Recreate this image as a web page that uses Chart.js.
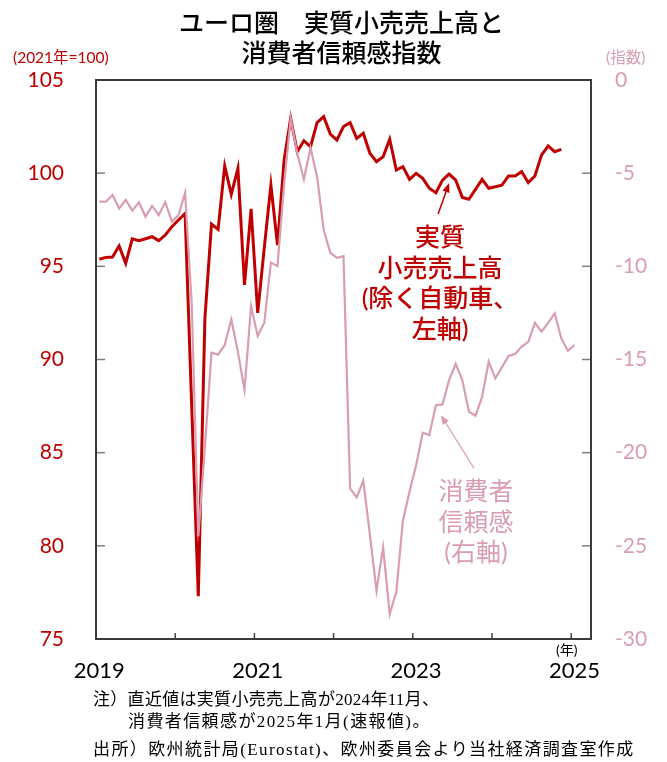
<!DOCTYPE html>
<html lang="ja">
<head>
<meta charset="UTF-8">
<title>ユーロ圏 実質小売売上高と消費者信頼感指数</title>
<script src="https://cdn.jsdelivr.net/npm/chart.js"></script>
<style>
  body { margin: 0; background: #fff; }
  .wrap { position: relative; width: 667px; height: 762px; font-family: Lato, "Noto Sans CJK JP", sans-serif; }
  canvas { position: absolute; left: 0; top: 0; }
  .txt { position: absolute; white-space: nowrap; }
  .titulo { left: 90px; width: 503px; top: 7px; text-align: center; font-size: 25px; line-height: 30px; font-weight: 500; color: #000; }
  .unid { top: 47px; font-size: 15.5px; line-height: 20px; }
  .anot { text-align: center; font-size: 25px; line-height: 30.7px; }
  .nota { font-family: "Liberation Serif", "Noto Sans CJK JP", serif; font-size: 17px; line-height: 20px; color: #000; }
</style>
</head>
<body>
<div class="wrap">
  <canvas id="grafico" width="667" height="762"></canvas>
  <div class="txt titulo">ユーロ圏　実質小売売上高と<br>消費者信頼感指数</div>
  <div class="txt unid" style="left:13px;color:#c00000;">(2021年=100)</div>
  <div class="txt unid" style="left:606px;color:#d99db1;">(指数)</div>
  <div class="txt anot" style="left:340px;width:200px;top:221px;color:#c00000;font-weight:500;">実質<br>小売売上高<br>(除く自動車、<br>左軸)</div>
  <div class="txt anot" style="left:376px;width:200px;top:475px;color:#d99db1;">消費者<br>信頼感<br>(右軸)</div>
  <div class="txt" style="left:556px;top:641px;font-size:14px;line-height:18px;">(年)</div>
  <div class="txt nota" style="left:93px;top:690px;letter-spacing:0.3px;">注）直近値は実質小売売上高が2024年11月、</div>
  <div class="txt nota" style="left:128px;top:712px;letter-spacing:1.4px;">消費者信頼感が2025年1月(速報値)。</div>
  <div class="txt nota" style="left:93px;top:740px;letter-spacing:1.4px;">出所）欧州統計局(Eurostat)、欧州委員会より当社経済調査室作成</div>
</div>

<script>
// eixo x: meses de 2019/1 até 2025/3
const anos = [2019, 2020, 2021, 2022, 2023, 2024, 2025];
const anosRotulo = ['2019', '2021', '2023', '2025'];

// 実質小売売上高 (除く自動車, 2021年=100), 2019/1 - 2024/11
const varejo = [
  95.38, 95.48, 95.5, 96.09, 95.16, 96.48, 96.38, 96.48, 96.59, 96.38, 96.68, 97.13,
  97.49, 97.84, 87.5, 77.3, 92.2, 97.27, 96.98, 100.38, 98.86, 100.26, 94.0, 98.08,
  92.5, 96.0, 99.36, 96.14, 100.7, 102.94, 101.15, 101.74, 101.42, 102.71, 103.03, 102.1,
  101.78, 102.5, 102.71, 101.87, 102.14, 101.07, 100.62, 100.88, 101.82, 100.17, 100.35, 99.67,
  99.99, 99.72, 99.19, 98.95, 99.63, 99.95, 99.63, 98.7, 98.6, 99.13, 99.67, 99.19,
  99.27, 99.36, 99.85, 99.85, 100.08, 99.49, 99.85, 100.97, 101.46, 101.15, 101.28
];

// 消費者信頼感指数, 2019/1 - 2025/1
const confianca = [
  -6.53, -6.53, -6.17, -6.89, -6.44, -7.01, -6.57, -7.33, -6.76, -7.25, -6.55, -7.6,
  -7.25, -6.05, -12.0, -24.5, -19.7, -14.64, -14.74, -14.22, -12.85, -14.58, -16.64, -12.13,
  -13.74, -13.03, -9.8, -9.98, -5.6, -2.06, -3.94, -5.33, -3.63, -5.19, -8.05, -9.27,
  -9.54, -9.45, -21.92, -22.4, -21.5, -24.4, -27.4, -25.08, -28.66, -27.46, -23.65, -22.1,
  -20.67, -18.93, -19.06, -17.45, -17.41, -16.1, -15.24, -16.1, -17.8, -18.02, -17.0, -15.12,
  -16.01, -15.42, -14.81, -14.71, -14.31, -14.05, -13.03, -13.51, -13.03, -12.52, -13.87, -14.53,
  -14.22
];

const meses = [];
anos.forEach(a => {
  const fim = a === 2025 ? 3 : 12;
  for (let m = 1; m <= fim; m++) meses.push(a + '/' + m);
});

const VERMELHO = '#c00000';
const ROSA = '#d99db1';

function seta(ctx, x0, y0, x1, y1, cor, larg) {
  const ang = Math.atan2(y1 - y0, x1 - x0);
  const tam = 10, abre = 0.38;
  ctx.strokeStyle = cor;
  ctx.fillStyle = cor;
  ctx.lineWidth = larg;
  ctx.beginPath();
  ctx.moveTo(x0, y0);
  ctx.lineTo(x1 - Math.cos(ang) * tam * 0.8, y1 - Math.sin(ang) * tam * 0.8);
  ctx.stroke();
  ctx.beginPath();
  ctx.moveTo(x1, y1);
  ctx.lineTo(x1 - tam * Math.cos(ang - abre), y1 - tam * Math.sin(ang - abre));
  ctx.lineTo(x1 - tam * Math.cos(ang + abre), y1 - tam * Math.sin(ang + abre));
  ctx.closePath();
  ctx.fill();
}

// moldura, marcas internas e setas das anotações
const moldura = {
  id: 'moldura',
  afterDatasetsDraw(chart) {
    const { ctx, chartArea: a, scales } = chart;
    ctx.save();
    ctx.strokeStyle = '#7f7f7f';
    ctx.lineWidth = 1.5;
    scales.y.ticks.forEach(t => {
      const py = scales.y.getPixelForValue(t.value);
      ctx.beginPath(); ctx.moveTo(a.left, py); ctx.lineTo(a.left + 9, py); ctx.stroke();
    });
    scales.y2.ticks.forEach(t => {
      const py = scales.y2.getPixelForValue(t.value);
      ctx.beginPath(); ctx.moveTo(a.right - 9, py); ctx.lineTo(a.right, py); ctx.stroke();
    });
    const meio = (scales.x.getPixelForValue(1) - scales.x.getPixelForValue(0)) / 2;
    ctx.strokeStyle = '#404040';
    for (let i = 12; i < meses.length; i += 12) {
      const px = scales.x.getPixelForValue(i) - meio;
      ctx.beginPath(); ctx.moveTo(px, a.bottom); ctx.lineTo(px, a.bottom - 6); ctx.stroke();
    }
    ctx.strokeStyle = '#3a3a3a';
    ctx.lineWidth = 2;
    ctx.strokeRect(a.left, a.top, a.right - a.left, a.bottom - a.top);

    // seta vermelha -> 2023/6, seta rosa -> 2023/4
    const xr = scales.x.getPixelForValue(53), yr = scales.y.getPixelForValue(varejo[53]);
    seta(ctx, xr - 11, yr + 40, xr, yr + 9, VERMELHO, 1.5);
    const xc = scales.x.getPixelForValue(51), yc = scales.y2.getPixelForValue(confianca[51]);
    seta(ctx, xc + 38, yc + 63, xc + 5, yc + 10, ROSA, 1.2);
    ctx.restore();
  }
};

new Chart(document.getElementById('grafico'), {
  type: 'line',
  data: {
    labels: meses,
    datasets: [
      {
        label: '消費者信頼感',
        data: confianca,
        yAxisID: 'y2',
        borderColor: ROSA,
        borderWidth: 2.2,
        pointRadius: 0,
        tension: 0,
        order: 0
      },
      {
        label: '実質小売売上高',
        data: varejo,
        yAxisID: 'y',
        borderColor: VERMELHO,
        borderWidth: 3,
        pointRadius: 0,
        tension: 0,
        order: 1
      }
    ]
  },
  options: {
    responsive: false,
    animation: false,
    layout: { padding: { top: 80, left: 0, right: 0, bottom: 0 } },
    plugins: {
      legend: { display: false },
      title: { display: false },
      tooltip: { enabled: false }
    },
    scales: {
      x: {
        type: 'category',
        offset: true,
        grid: { display: false, drawTicks: false },
        border: { display: false },
        afterFit: s => { s.height = 123; },
        ticks: {
          autoSkip: false,
          maxRotation: 0,
          padding: 19,
          color: '#000',
          font: { family: 'Lato', size: 22 },
          callback: function (v, i) {
            const r = meses[i].split('/');
            return (r[1] === '1' && anosRotulo.includes(r[0])) ? r[0] : '';
          }
        }
      },
      y: {
        position: 'left',
        min: 75, max: 105,
        grid: { display: false, drawTicks: false },
        border: { display: false },
        afterFit: s => { s.width = 96; },
        ticks: {
          stepSize: 5,
          padding: 32,
          color: VERMELHO,
          font: { family: 'Lato', size: 21 }
        }
      },
      y2: {
        position: 'right',
        min: -30, max: 0,
        grid: { display: false, drawTicks: false },
        border: { display: false },
        afterFit: s => { s.width = 76; },
        ticks: {
          stepSize: 5,
          padding: 24,
          color: ROSA,
          font: { family: 'Lato', size: 21 }
        }
      }
    }
  },
  plugins: [moldura]
});
</script>
</body>
</html>
